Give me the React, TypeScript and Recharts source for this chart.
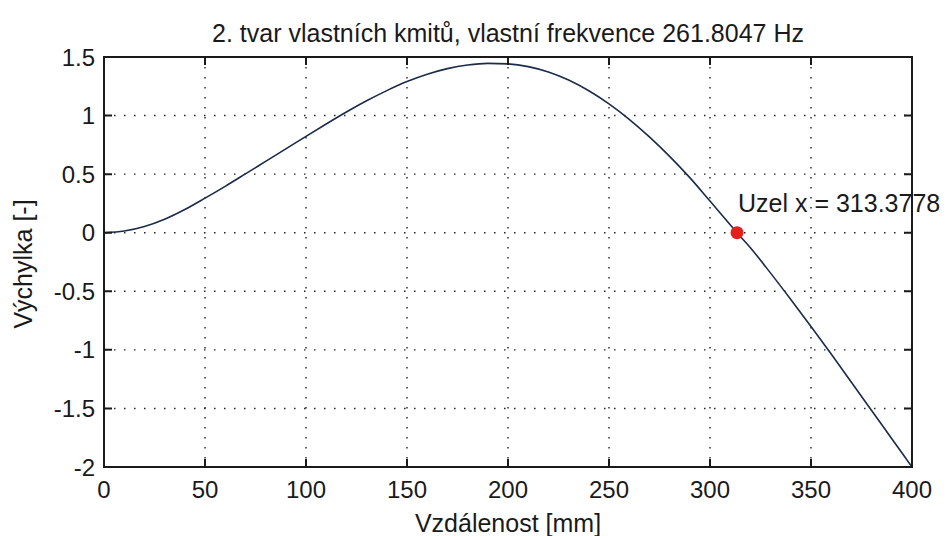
import React from 'react';
import { LineChart, Line, XAxis, YAxis, CartesianGrid, ReferenceDot, Customized } from 'recharts';

// x positions along the beam [mm] and the mode shape
const distance = [0, 10, 20, 30, 40, 50, 60, 70, 80, 90, 100, 110, 120, 130, 140, 150, 160, 170, 180, 190, 200, 210, 220, 230, 240, 250, 260, 270, 280, 290, 300, 310, 313.3778, 320, 330, 340, 350, 360, 370, 380, 390, 400];
const deflection = [0, 0.014, 0.053, 0.115, 0.198, 0.295, 0.396, 0.502, 0.609, 0.716, 0.823, 0.928, 1.03, 1.126, 1.213, 1.29, 1.353, 1.401, 1.432, 1.446, 1.441, 1.418, 1.372, 1.303, 1.212, 1.1, 0.968, 0.818, 0.652, 0.47, 0.27, 0.068, 0, -0.128, -0.345, -0.57, -0.8, -1.036, -1.276, -1.518, -1.759, -2.0];

const xTicks = [0, 50, 100, 150, 200, 250, 300, 350, 400];
const yTicks = [-2, -1.5, -1, -0.5, 0, 0.5, 1, 1.5];

const nodeX = 313.3778;
const nodeY = 0;
const nodeLabel = 'Uzel x = 313.3778';
const title = '2. tvar vlastních kmitů, vlastní frekvence 261.8047 Hz';
const xLabel = 'Vzdálenost [mm]';
const yLabel = 'Výchylka [-]';

const data = distance.map((x, i) => ({ x, y: deflection[i] }));

const W = 948;
const H = 536;
const PLOT_LEFT = 104;
const PLOT_RIGHT = 912;
const PLOT_TOP = 57;
const PLOT_BOTTOM = 467;
const FONT = '"Liberation Sans", Arial, sans-serif';
const INK = '#1a1a1a';
const TICK_LEN = 8;

function XTick(props: any) {
  const { x, payload } = props;
  const cx = payload.coordinate ?? x;
  return (
    <g>
      <path d={`M${cx},${PLOT_BOTTOM}v${-TICK_LEN}M${cx},${PLOT_TOP}v${TICK_LEN}`} style={{ stroke: INK, strokeWidth: 2 }} />
      <text x={cx} y={498} textAnchor="middle" fontSize={24} fontFamily={FONT} fill={INK}>
        {payload.value}
      </text>
    </g>
  );
}

function YTick(props: any) {
  const { y, payload } = props;
  const cy = payload.coordinate ?? y;
  return (
    <g>
      <path d={`M${PLOT_LEFT},${cy}h${TICK_LEN}M${PLOT_RIGHT},${cy}h${-TICK_LEN}`} style={{ stroke: INK, strokeWidth: 2 }} />
      <text x={95} y={cy} dy="0.36em" textAnchor="end" fontSize={24} fontFamily={FONT} fill={INK}>
        {payload.value}
      </text>
    </g>
  );
}

function NodeMarker(props: any) {
  const { cx, cy } = props;
  return (
    <g>
      <circle cx={cx} cy={cy} r={6.5} fill="#e3201b" />
      <text x={cx + 1} y={cy - 21} fontSize={25} fontFamily={FONT} fill={INK}>
        {nodeLabel}
      </text>
    </g>
  );
}

function Texts() {
  const midX = (PLOT_LEFT + PLOT_RIGHT) / 2;
  return (
    <g>
      <path
        d={`M${PLOT_LEFT},${PLOT_TOP}H${PLOT_RIGHT}V${PLOT_BOTTOM}H${PLOT_LEFT}Z`}
        style={{ fill: 'none', stroke: INK, strokeWidth: 2 }}
      />
      <text x={midX} y={42} textAnchor="middle" fontSize={25} fontFamily={FONT} fill={INK}>{title}</text>
      <text x={midX} y={532} textAnchor="middle" fontSize={25} fontFamily={FONT} fill={INK}>{xLabel}</text>
      <text x={32} y={264} textAnchor="middle" fontSize={25} fontFamily={FONT} fill={INK} transform="rotate(-90, 32, 264)">{yLabel}</text>
    </g>
  );
}

export default function App() {
  return (
    <div style={{ position: 'absolute', left: 0, top: 0, width: W, height: H, background: '#fff' }}>
      <LineChart width={W} height={H} data={data} margin={{ top: PLOT_TOP, right: W - PLOT_RIGHT, bottom: 0, left: 0 }}>
        <CartesianGrid stroke="#222" strokeWidth={1.4} strokeDasharray="1.5 8.5" horizontalValues={yTicks} verticalValues={xTicks} />
        <XAxis
          dataKey="x"
          type="number"
          domain={[0, 400]}
          ticks={xTicks}
          interval={0}
          height={H - PLOT_BOTTOM}
          axisLine={false}
          tickLine={false}
          tickSize={0}
          tickMargin={0}
          tick={<XTick />}
          allowDataOverflow
        />
        <YAxis
          type="number"
          domain={[-2, 1.5]}
          ticks={yTicks}
          interval={0}
          width={PLOT_LEFT}
          axisLine={false}
          tickLine={false}
          tickSize={0}
          tickMargin={0}
          tick={<YTick />}
          allowDataOverflow
        />
        <Customized component={<Texts />} />
        <Line type="monotone" dataKey="y" stroke="#1b2b48" strokeWidth={1.6} dot={false} isAnimationActive={false} />
        <ReferenceDot x={nodeX} y={nodeY} shape={<NodeMarker />} ifOverflow="visible" />
      </LineChart>
    </div>
  );
}
